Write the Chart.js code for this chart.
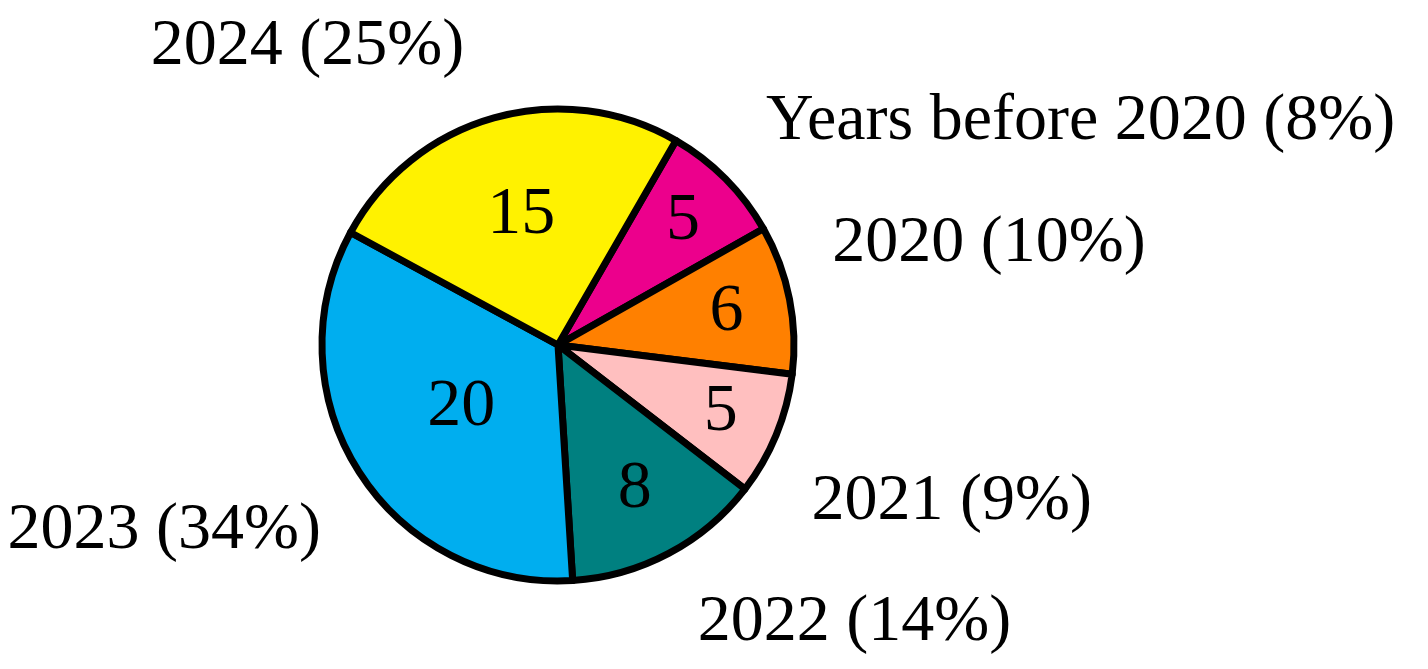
<!DOCTYPE html>
<html>
<head>
<meta charset="utf-8">
<script src="https://cdn.jsdelivr.net/npm/chart.js@4/dist/chart.umd.min.js"></script>
<style>
  html, body { margin: 0; padding: 0; background: #fff; }
  #wrap { width: 1428px; height: 669px; position: relative; }
</style>
</head>
<body>
<div id="wrap"><canvas id="pieChart"></canvas></div>
<script>
const categories = ['Years before 2020', '2020', '2021', '2022', '2023', '2024'];
const counts = [5, 6, 5, 8, 20, 15];
const shares = ['8%', '10%', '9%', '14%', '34%', '25%'];
const sliceColors = ['#EC008C', '#FF8000', '#FFBFBF', '#008080', '#00AEEF', '#FFF200'];

const serif = '"Liberation Serif", "Times New Roman", serif';

// draws the count inside each slice and "name (share)" outside it
const sliceLabels = {
    id: 'sliceLabels',
    afterDatasetsDraw(chart, args, opts) {
        const ctx = chart.ctx;
        const arcs = chart.getDatasetMeta(0).data;
        ctx.save();
        ctx.fillStyle = '#000';
        arcs.forEach((arc, i) => {
            const p = arc.getProps(['x', 'y', 'startAngle', 'endAngle', 'outerRadius'], true);
            const mid = (p.startAngle + p.endAngle) / 2;
            const span = (p.endAngle - p.startAngle) * 180 / Math.PI;

            // inner number, pulled towards the centre for wide slices
            const inner = (0.8 + Math.min(-0.3 * span / 110, 0)) * p.outerRadius * 1.04;
            ctx.font = '68px ' + serif;
            ctx.textAlign = 'center';
            ctx.textBaseline = 'middle';
            ctx.fillText(String(counts[i]), p.x + inner * Math.cos(mid), p.y + inner * Math.sin(mid));

            // outer label, hung from the corner that faces the pie
            const a = mid + (opts.turn[i] || 0) * Math.PI / 180;
            const cos = Math.cos(a), sin = Math.sin(a);
            const size = 66;
            const outer = p.outerRadius * 1.2;
            const ax = p.x + outer * cos;
            const ay = p.y + outer * sin;
            ctx.font = size + 'px ' + serif;
            ctx.textAlign = cos >= 0 ? 'left' : 'right';
            ctx.textBaseline = 'alphabetic';
            const by = sin < 0 ? ay - 0.21 * size : ay + 0.73 * size;
            ctx.fillText(categories[i] + ' (' + shares[i] + ')', ax, by);
        });
        ctx.restore();
    }
};

const ctxPie = document.getElementById('pieChart').getContext('2d');
const pieChart = new Chart(ctxPie, {
    type: 'pie',
    data: {
        labels: categories,
        datasets: [{
            data: counts,
            backgroundColor: sliceColors,
            borderColor: '#000',
            borderWidth: 7,
            borderJoinStyle: 'round'
        }]
    },
    options: {
        responsive: true,
        maintainAspectRatio: false,
        animation: false,
        rotation: 30,
        radius: 236,
        layout: { padding: { left: 0, right: 312, top: 21, bottom: 0 } },
        plugins: {
            legend: { display: false },
            tooltip: { enabled: false },
            sliceLabels: { turn: [2, -3.2, 4.1, -1.6, -0.6, -3.6] }
        }
    },
    plugins: [sliceLabels]
});
</script>
</body>
</html>
